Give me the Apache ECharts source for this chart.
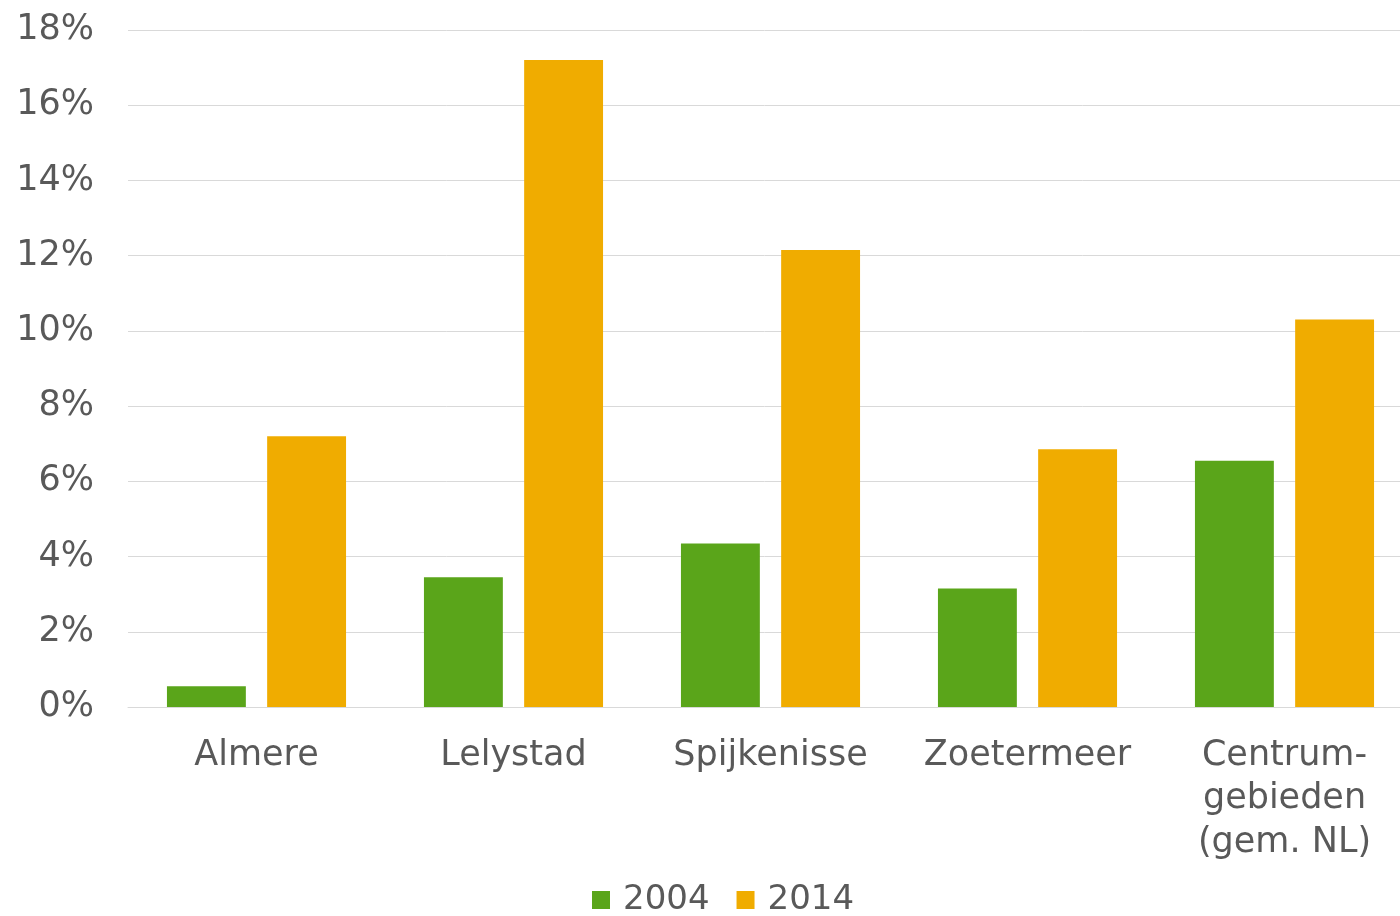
<!DOCTYPE html>
<html>
<head>
<meta charset="utf-8">
<script src="https://cdn.jsdelivr.net/npm/echarts@6/dist/echarts.min.js"></script>
<style>
  html, body { margin: 0; padding: 0; background: #fff; }
  #chart { width: 1400px; height: 916px; }
</style>
</head>
<body>
<div id="chart"></div>
<script type="text/javascript">

var categories = ['Almere', 'Lelystad', 'Spijkenisse', 'Zoetermeer', 'Centrum-\ngebieden\n(gem. NL)'];
var values2004 = [0.55, 3.45, 4.35, 3.15, 6.55];
var values2014 = [7.2, 17.2, 12.15, 6.85, 10.3];
var yTicks = [0, 2, 4, 6, 8, 10, 12, 14, 16, 18];

var textColor = '#595959';
var fontName = 'DejaVu Sans';

var chart = echarts.init(document.getElementById('chart'));

var option = {
    animation: false,
    textStyle: { fontFamily: fontName },
    // plot area runs a bit past the right edge of the picture
    grid: { left: 128, width: 1285, top: 30, bottom: 209, containLabel: false, outerBoundsMode: 'none' },
    legend: {
        left: 587,
        top: 878,
        itemWidth: 18,
        itemHeight: 18,
        itemGap: 27,
        icon: 'rect',
        textStyle: { fontSize: 34, color: textColor, fontFamily: fontName, padding: [0, 0, 0, 8] },
        data: ['2004', '2014']
    },
    xAxis: {
        type: 'category',
        data: categories,
        axisLine: { lineStyle: { color: '#D9D9D9', width: 1 } },
        axisTick: { show: false },
        axisLabel: {
            color: textColor,
            fontSize: 35,
            lineHeight: 43.5,
            margin: 27,
            interval: 0,
            fontFamily: fontName
        }
    },
    yAxis: {
        type: 'value',
        min: yTicks[0],
        max: yTicks[yTicks.length - 1],
        interval: 2,
        axisLine: { show: false },
        axisTick: { show: false },
        splitLine: { lineStyle: { color: '#D9D9D9', width: 1 } },
        axisLabel: {
            color: textColor,
            fontSize: 35,
            margin: 34,
            fontFamily: fontName,
            formatter: '{value}%'
        }
    },
    series: [
        {
            name: '2004',
            type: 'bar',
            data: values2004,
            barWidth: '30.7%',
            barGap: '27%',
            itemStyle: { color: '#5AA51A' }
        },
        {
            name: '2014',
            type: 'bar',
            data: values2014,
            barWidth: '30.7%',
            itemStyle: { color: '#F0AC00' }
        }
    ]
};

chart.setOption(option);
</script>
</body>
</html>
